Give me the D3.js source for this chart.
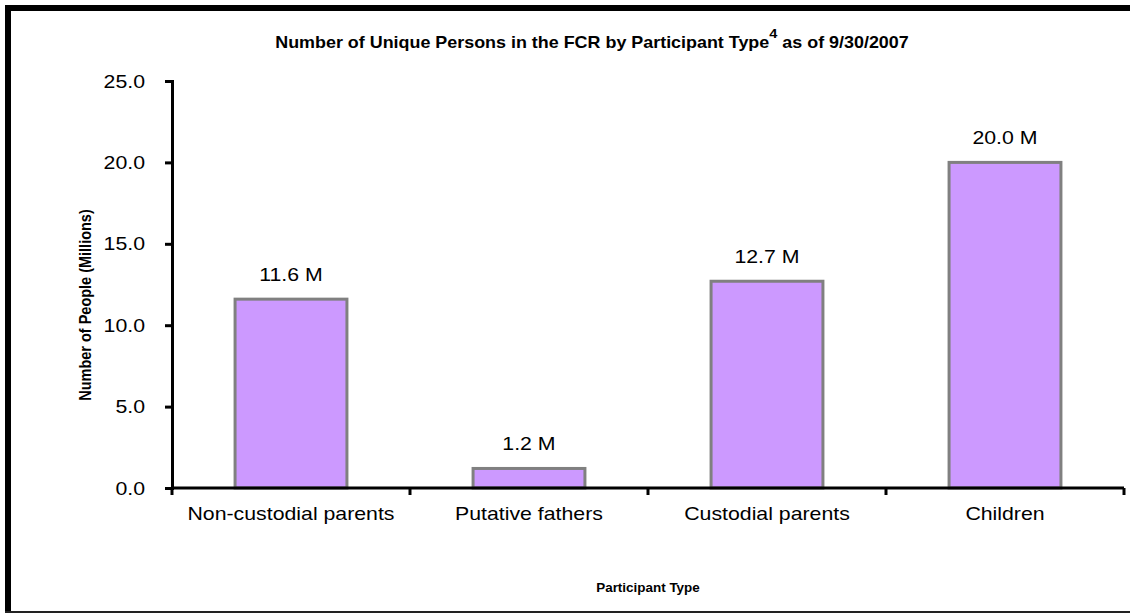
<!DOCTYPE html>
<html>
<head>
<meta charset="utf-8">
<script src="https://cdn.jsdelivr.net/npm/d3@7"></script>
<style>
  html, body { margin: 0; padding: 0; background: #fff; }
  svg { display: block; font-family: "Liberation Sans", Arial, sans-serif; }
</style>
</head>
<body>
<svg id="chart" width="1130" height="615"></svg>
<script>
const categories = ["Non-custodial parents", "Putative fathers", "Custodial parents", "Children"];
const values = [11.6, 1.2, 12.7, 20.0];
const valueLabels = ["11.6 M", "1.2 M", "12.7 M", "20.0 M"];
const yTicks = [0, 5, 10, 15, 20, 25];

const FONT = "Liberation Sans, Arial, sans-serif";
const SX = 1.12; // horizontal stretch of the source picture

function stretch(sel) {
  sel.each(function () {
    const w = this.getComputedTextLength();
    d3.select(this).attr("textLength", w * SX).attr("lengthAdjust", "spacingAndGlyphs");
  });
}

const svg = d3.select("#chart");

// frame
svg.append("rect").attr("x", 5).attr("y", 5).attr("width", 1125).attr("height", 6).attr("fill", "#000");
svg.append("rect").attr("x", 5).attr("y", 5).attr("width", 6).attr("height", 608).attr("fill", "#000");
svg.append("rect").attr("x", 5).attr("y", 611).attr("width", 1125).attr("height", 2).attr("fill", "#222");

const x = d3.scaleBand().domain(categories).range([172, 1124]).paddingInner(0.53).paddingOuter(0.265);
const y = d3.scaleLinear().domain([0, 25]).range([488, 81]);

// bars
svg.selectAll("rect.bar").data(values).enter().append("rect")
  .attr("class", "bar")
  .attr("x", (d, i) => x(categories[i]))
  .attr("y", d => y(d))
  .attr("width", x.bandwidth())
  .attr("height", d => y(0) - y(d))
  .attr("fill", "#CC99FF")
  .attr("stroke", "#808080")
  .attr("stroke-width", 3);

// value labels
const vl = svg.selectAll("text.val").data(values).enter().append("text")
  .attr("class", "val")
  .attr("x", (d, i) => x(categories[i]) + x.bandwidth() / 2)
  .attr("y", d => y(d) - 18)
  .attr("text-anchor", "middle")
  .attr("font-size", 19)
  .attr("font-family", FONT)
  .attr("fill", "#000")
  .text((d, i) => valueLabels[i]);
stretch(vl);

// y axis
const yAxis = d3.axisLeft(y).tickValues(yTicks).tickFormat(d3.format(".1f")).tickSize(7).tickPadding(20);
const gy = svg.append("g").attr("transform", "translate(172,0)").call(yAxis);
gy.select(".domain").attr("stroke", "#000").attr("stroke-width", 3);
gy.selectAll(".tick line").attr("stroke", "#000").attr("stroke-width", 3);
gy.selectAll(".tick text").attr("font-size", 19).attr("fill", "#000").attr("font-family", FONT);
stretch(gy.selectAll(".tick text"));

// x axis
const xTickScale = d3.scaleLinear().domain([0, categories.length]).range([172, 1124]);
svg.append("line").attr("x1", 172).attr("x2", 1124).attr("y1", 488).attr("y2", 488)
  .attr("stroke", "#000").attr("stroke-width", 3);
svg.selectAll("line.xt").data(d3.range(categories.length + 1)).enter().append("line")
  .attr("class", "xt")
  .attr("x1", d => xTickScale(d)).attr("x2", d => xTickScale(d))
  .attr("y1", 488).attr("y2", 495)
  .attr("stroke", "#000").attr("stroke-width", 3);
const xAxis = d3.axisBottom(x).tickSize(0).tickPadding(19);
const gx = svg.append("g").attr("transform", "translate(0,488)").call(xAxis);
gx.select(".domain").remove();
gx.selectAll(".tick text").attr("font-size", 19).attr("fill", "#000").attr("font-family", FONT);
stretch(gx.selectAll(".tick text"));

// title
const title = svg.append("text")
  .attr("transform", `translate(592,48) scale(${SX},1)`)
  .attr("text-anchor", "middle")
  .attr("font-size", 16).attr("font-weight", "bold").attr("fill", "#000").attr("font-family", FONT);
title.append("tspan").text("Number of Unique Persons in the FCR by Participant Type");
title.append("tspan").attr("dy", -10).attr("font-size", 13).text("4");
title.append("tspan").attr("dy", 10).text(" as of 9/30/2007");

// axis titles
svg.append("text").attr("transform", `translate(91,305) rotate(-90) scale(1,${SX})`).attr("text-anchor", "middle")
  .attr("font-size", 14.5).attr("font-weight", "bold").attr("fill", "#000").attr("font-family", FONT)
  .text("Number of People (Millions)");
const xt = svg.append("text").attr("x", 648).attr("y", 592).attr("text-anchor", "middle")
  .attr("font-size", 12).attr("font-weight", "bold").attr("fill", "#000").attr("font-family", FONT)
  .text("Participant Type");
stretch(xt);
</script>
</body>
</html>
